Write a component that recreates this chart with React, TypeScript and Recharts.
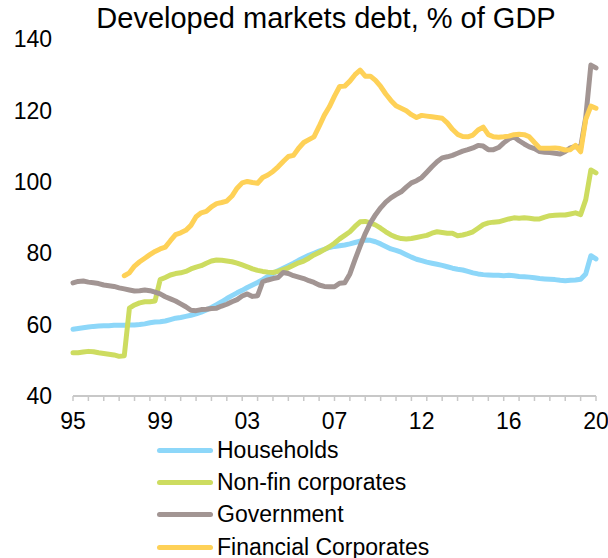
import React from 'react';
import { LineChart, Line, XAxis, YAxis } from 'recharts';

// quarterly, 1995Q1 .. 2020Q3
const quarters: string[] = [];
for (let y = 1995; y <= 2020; y++) {
  for (let q = 1; q <= 4; q++) {
    if (quarters.length < 103) quarters.push(`${y}Q${q}`);
  }
}

const households = [
  58.7, 58.9, 59.1, 59.3, 59.5, 59.6, 59.7, 59.7, 59.8, 59.8,
  59.8, 59.9, 59.9, 60.0, 60.2, 60.5, 60.7, 60.8, 61.0, 61.4,
  61.8, 62.0, 62.3, 62.6, 63.0, 63.5, 64.1, 64.8, 65.6, 66.4,
  67.3, 68.1, 68.9, 69.6, 70.4, 71.1, 71.8, 72.6, 73.5, 74.3,
  75.1, 75.8, 76.5, 77.2, 78.0, 78.7, 79.4, 80.0, 80.6, 81.1,
  81.6, 81.9, 82.1, 82.3, 82.6, 83.0, 83.4, 83.7, 83.6, 83.2,
  82.6, 81.9, 81.2, 80.8, 80.3, 79.6, 78.9, 78.3, 77.9, 77.5,
  77.2, 76.9, 76.6, 76.2, 75.8, 75.5, 75.3, 74.9, 74.5, 74.2,
  74.0, 73.9, 73.8, 73.8, 73.7, 73.8, 73.7, 73.5, 73.4, 73.3,
  73.1, 72.9, 72.8, 72.7, 72.6, 72.4, 72.3, 72.4, 72.5, 72.7,
  74.2, 79.3, 78.4,
];

const nonFin = [
  52.1, 52.1, 52.3, 52.5, 52.4, 52.1, 51.9, 51.7, 51.5, 51.1,
  51.3, 64.6, 65.5, 66.1, 66.4, 66.4, 66.6, 72.6, 73.2, 73.9,
  74.3, 74.5, 74.9, 75.6, 76.1, 76.5, 77.2, 77.8, 78.1, 78.0,
  77.8, 77.6, 77.2, 76.7, 76.2, 75.6, 75.2, 74.9, 74.7, 74.6,
  74.9, 75.4, 75.9, 76.6, 77.3, 77.8, 78.6, 79.5, 80.2, 81.0,
  81.8, 82.8, 84.0, 85.0, 86.0, 87.5, 88.8, 88.9, 88.5, 87.9,
  87.0, 86.0, 85.1, 84.5, 84.1, 84.0, 84.1, 84.4, 84.7, 85.0,
  85.6, 86.0, 85.8, 85.6, 85.6, 84.9, 85.1, 85.5, 86.0, 87.0,
  88.0, 88.5, 88.7, 88.8, 89.2, 89.6, 89.9, 89.8, 89.9, 89.8,
  89.6, 89.6, 90.1, 90.5, 90.6, 90.7, 90.7, 91.0, 91.3, 90.8,
  95.0, 103.3, 102.5,
];

const government = [
  71.7, 72.1, 72.2, 71.9, 71.7, 71.5, 71.1, 70.9, 70.7, 70.3,
  70.0, 69.7, 69.4, 69.5, 69.7, 69.5, 69.1, 68.6, 67.8, 67.2,
  66.6, 65.8, 65.0, 64.0, 63.9, 64.2, 64.3, 64.5, 64.6, 65.2,
  65.7, 66.4, 67.0, 68.0, 68.6, 67.9, 68.1, 72.0, 72.5, 72.9,
  73.2, 74.6, 74.3, 73.7, 73.3, 72.9, 72.3, 71.8, 71.1, 70.7,
  70.6, 70.6, 71.6, 71.7, 74.2, 78.2, 82.0, 85.5, 88.5, 90.8,
  92.7, 94.3, 95.5, 96.4, 97.2, 98.5, 99.7, 100.3, 101.2, 102.7,
  104.2, 105.6, 106.7, 107.0, 107.4, 108.0, 108.6, 109.0, 109.5, 110.2,
  110.0, 109.0, 109.0, 109.6, 110.9, 112.0, 112.6, 111.5, 110.6, 109.8,
  109.3, 108.5, 108.3, 108.2, 108.0, 107.8, 108.5, 109.5, 109.9, 109.6,
  118.0, 132.7, 131.9,
];

const financial = [
  null, null, null, null, null, null, null, null, null, null,
  73.7, 74.5, 76.4, 77.6, 78.6, 79.6, 80.5, 81.2, 81.7, 83.5,
  85.2, 85.7, 86.4, 87.8, 90.2, 91.3, 91.7, 93.0, 93.9, 94.2,
  94.6, 96.0, 98.2, 99.7, 100.1, 99.8, 99.6, 101.2, 101.9, 102.9,
  104.2, 105.7, 107.1, 107.4, 109.4, 111.0, 111.8, 112.6, 115.5, 118.6,
  121.0, 124.0, 126.7, 126.8, 128.2, 130.0, 131.3, 129.6, 129.6, 128.4,
  126.7, 124.6, 122.8, 121.3, 120.6, 119.9, 118.8, 118.0, 118.6, 118.4,
  118.2, 118.0, 117.8, 116.5, 114.7, 113.3, 112.7, 112.6, 113.1, 114.5,
  115.3, 113.2, 112.6, 112.5, 112.6, 112.8, 113.2, 113.3, 113.2, 112.6,
  111.0, 109.5, 109.4, 109.4, 109.5, 109.3, 108.9, 109.0, 110.2, 108.4,
  117.5, 121.2, 120.6,
];

const yTicks = [40, 60, 80, 100, 120, 140];
const TICK_EVERY = 3; // minor tick mark every 3 quarters
const LABEL_EVERY = 17; // year label every 17 quarters

const series = [
  { key: 'households', name: 'Households', color: '#8dd7f9' },
  { key: 'nonFin', name: 'Non-fin corporates', color: '#cddc60' },
  { key: 'government', name: 'Government', color: '#a29593' },
  { key: 'financial', name: 'Financial Corporates', color: '#fed157' },
];

const data = quarters.map((q, i) => ({
  q,
  households: households[i],
  nonFin: nonFin[i],
  government: government[i],
  financial: financial[i],
}));

const FONT = '"Liberation Sans", Arial, sans-serif';
const AXIS_GREY = '#c8c8c8';

// one tick per quarter: a short mark every 3rd, a 2-digit year every 17th
const QuarterTick = (props: any) => {
  const { x, y, index, payload } = props;
  return (
    <g>
      {index % TICK_EVERY === 0 && (
        <line x1={x} x2={x} y1={y} y2={y + 5} stroke={AXIS_GREY} strokeWidth={1.5} />
      )}
      {index % LABEL_EVERY === 0 && (
        <text
          x={x}
          y={y + 17}
          dy="0.71em"
          textAnchor="middle"
          fill="#000"
          fontSize={23}
          fontFamily={FONT}
        >
          {String(payload.value).slice(2, 4)}
        </text>
      )}
    </g>
  );
};

export default function App() {
  return (
    <div
      style={{
        position: 'absolute',
        left: 0,
        top: 0,
        width: 608,
        height: 558,
        background: '#fff',
        fontFamily: FONT,
        color: '#000',
      }}
    >
      <div
        style={{
          position: 'absolute',
          top: 4,
          left: 326,
          transform: 'translateX(-50%)',
          whiteSpace: 'nowrap',
          fontSize: 29,
          lineHeight: 1,
        }}
      >
        Developed markets debt, % of GDP
      </div>

      <LineChart
        width={608}
        height={440}
        data={data}
        margin={{ top: 39, right: 12, left: 0, bottom: 0 }}
        style={{ position: 'absolute', left: 0, top: 0 }}
      >
        <XAxis
          dataKey="q"
          height={44}
          interval={0}
          tick={QuarterTick}
          tickLine={false}
          tickSize={0}
          tickMargin={0}
          axisLine={{ stroke: AXIS_GREY, strokeWidth: 2 }}
        />
        <YAxis
          width={73}
          domain={[40, 140]}
          ticks={yTicks}
          axisLine={false}
          tickLine={false}
          tickSize={0}
          tickMargin={21}
          tick={{ fill: '#000', fontSize: 23, fontFamily: FONT }}
        />
        {series.map((s) => (
          <Line
            key={s.key}
            type="linear"
            dataKey={s.key}
            name={s.name}
            stroke={s.color}
            strokeWidth={5}
            strokeLinejoin="round"
            strokeLinecap="round"
            dot={false}
            activeDot={false}
            isAnimationActive={false}
          />
        ))}
      </LineChart>

      <div style={{ position: 'absolute', left: 157, top: 434 }}>
        {series.map((s) => (
          <div
            key={s.key}
            style={{ display: 'flex', alignItems: 'center', height: 32.3 }}
          >
            <span
              style={{
                display: 'inline-block',
                width: 56,
                height: 5,
                borderRadius: 3,
                background: s.color,
                marginRight: 4,
              }}
            />
            <span style={{ fontSize: 23, lineHeight: 1, whiteSpace: 'nowrap' }}>{s.name}</span>
          </div>
        ))}
      </div>
    </div>
  );
}
